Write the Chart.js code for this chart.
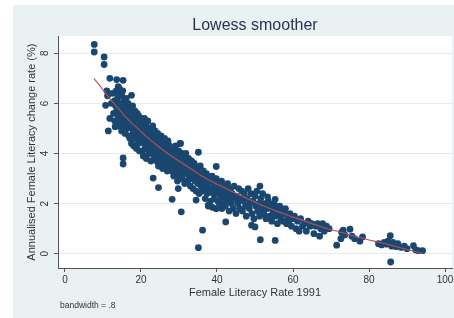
<!DOCTYPE html>
<html lang="en">
<head>
<meta charset="UTF-8">
<title>Lowess smoother</title>
<script src="https://cdn.jsdelivr.net/npm/chart.js"></script>
<style>
    html, body {
        margin: 0;
        padding: 0;
        background: #ffffff;
        overflow: hidden;
        width: 454px;
        height: 318px;
    }
    #chart {
        position: absolute;
        left: 13px;
        top: 5px;
        background: #eaf1f3;
    }
</style>
</head>
<body>
<canvas id="chart" width="470" height="313"></canvas>
<script>
    // tick labels
    const xTicks = [0, 20, 40, 60, 80, 100];
    const yTicks = [0, 2, 4, 6, 8];

    // female literacy rate 1991 (x) vs annualised change rate % (y)
    const districtPoints = [
        // top-left outliers
        [7.7, 8.35], [7.7, 8.05], [10.3, 7.85], [10.3, 7.55], [11.8, 7.0], [13.6, 6.95], [15.3, 6.92],
        [11.0, 6.5], [11.2, 6.3], [10.7, 5.92], [11.4, 4.9], [11.8, 5.4], [13.2, 5.07], [14.0, 6.67],
        [13.2, 6.43], [14.5, 6.47], [14.9, 6.34], [17.5, 6.32], [15.3, 3.82], [15.3, 3.58],
        // 12 - 17
        [12.2, 6.0], [12.5, 6.4], [12.8, 5.6], [13.0, 6.1], [13.1, 5.3], [13.3, 5.9], [13.5, 6.5], [13.6, 5.7],
        [13.8, 6.2], [13.9, 5.1], [14.0, 5.5], [14.2, 6.0], [14.3, 6.6], [14.4, 5.8], [14.5, 5.3], [14.7, 6.3],
        [14.8, 5.6], [14.9, 4.9], [15.0, 6.0], [15.1, 5.4], [15.2, 6.5], [15.3, 5.8], [15.4, 5.1], [15.6, 6.1],
        [15.7, 5.5], [15.8, 4.8], [15.9, 5.9], [16.0, 5.3], [16.1, 6.2], [16.2, 5.7], [16.3, 5.0], [16.4, 5.5],
        [16.6, 6.0], [16.7, 5.2], [16.8, 4.7], [16.9, 5.6],
        // 17 - 20
        [17.0, 5.4], [17.1, 4.6], [17.2, 5.8], [17.4, 5.1], [17.5, 4.4], [17.6, 5.6], [17.7, 5.0], [17.8, 5.9],
        [17.9, 4.8], [18.0, 5.3], [18.1, 4.3], [18.2, 5.5], [18.3, 4.9], [18.4, 5.7], [18.5, 5.1], [18.6, 4.6],
        [18.7, 5.4], [18.8, 4.2], [18.9, 5.0], [19.0, 5.6], [19.1, 4.7], [19.2, 5.2], [19.3, 4.4], [19.4, 5.5],
        [19.5, 4.9], [19.6, 4.1], [19.7, 5.3], [19.8, 4.6], [19.9, 5.0], [20.0, 5.4],
        // 20 - 24
        [20.1, 4.5], [20.2, 4.9], [20.3, 4.1], [20.4, 5.2], [20.5, 4.7], [20.6, 3.9], [20.7, 5.0], [20.8, 4.4],
        [20.9, 5.4], [21.0, 4.8], [21.1, 4.2], [21.2, 4.6], [21.3, 5.1], [21.4, 3.8], [21.5, 4.5], [21.6, 4.9],
        [21.7, 4.3], [21.8, 5.3], [21.9, 4.7], [22.0, 4.0], [22.1, 4.4], [22.2, 5.0], [22.3, 4.6], [22.4, 4.1],
        [22.5, 4.8], [22.6, 3.7], [22.7, 4.3], [22.8, 4.9], [22.9, 4.5], [23.0, 4.0], [23.1, 5.1], [23.2, 4.6],
        [23.3, 4.2], [23.4, 4.7], [23.5, 3.9], [23.6, 4.4], [23.7, 4.9], [23.8, 4.1], [23.9, 4.6], [24.0, 4.3],
        // 24 - 28
        [24.1, 3.7], [24.2, 4.5], [24.3, 4.0], [24.4, 4.8], [24.5, 4.2], [24.6, 3.5], [24.7, 4.4], [24.8, 3.9],
        [24.9, 4.6], [25.0, 4.1], [25.1, 3.6], [25.2, 4.3], [25.3, 4.7], [25.4, 3.8], [25.5, 4.2], [25.6, 4.5],
        [25.7, 3.4], [25.8, 4.0], [25.9, 4.4], [26.0, 3.7], [26.1, 4.2], [26.2, 4.6], [26.3, 3.9], [26.4, 4.1],
        [26.5, 3.5], [26.6, 4.4], [26.7, 3.8], [26.8, 4.2], [26.9, 3.3], [27.0, 4.0], [27.1, 4.5], [27.2, 3.6],
        [27.3, 4.1], [27.4, 3.9], [27.5, 4.3], [27.6, 3.4], [27.7, 3.8], [27.8, 4.2], [27.9, 3.6], [28.0, 4.0],
        // 28 - 32
        [28.1, 3.3], [28.2, 3.8], [28.3, 4.2], [28.4, 3.5], [28.5, 3.9], [28.6, 3.1], [28.7, 3.7], [28.8, 4.1],
        [28.9, 3.4], [29.0, 3.8], [29.1, 4.3], [29.2, 3.2], [29.3, 3.6], [29.4, 4.0], [29.5, 3.5], [29.6, 2.9],
        [29.7, 3.8], [29.8, 3.3], [29.9, 4.1], [30.0, 3.6], [30.1, 3.0], [30.2, 3.9], [30.3, 3.4], [30.4, 4.4],
        [30.5, 3.7], [30.6, 3.2], [30.7, 3.5], [30.8, 4.0], [30.9, 3.0], [31.0, 3.6], [31.2, 3.3], [31.4, 3.8],
        [31.5, 2.8], [31.6, 3.5], [31.8, 4.0], [32.0, 3.2],
        // 32 - 36
        [32.1, 3.6], [32.3, 2.9], [32.4, 3.4], [32.5, 3.8], [32.7, 3.1], [32.8, 3.5], [33.0, 2.7], [33.1, 3.3],
        [33.3, 3.7], [33.4, 3.0], [33.6, 3.4], [33.7, 2.6], [33.9, 3.2], [34.0, 3.6], [34.2, 2.9], [34.3, 3.3],
        [34.5, 2.5], [34.6, 3.0], [34.8, 3.4], [35.0, 2.8], [35.1, 3.2], [35.3, 2.4], [35.5, 3.0], [35.6, 3.5],
        [35.8, 2.7], [36.0, 3.1],
        // 36 - 40
        [36.1, 2.5], [36.3, 2.9], [36.4, 3.3], [36.6, 2.6], [36.8, 3.0], [36.9, 2.2], [37.1, 2.8], [37.2, 3.2],
        [37.4, 2.4], [37.5, 2.7], [37.7, 1.9], [37.8, 3.0], [38.0, 2.5], [38.2, 2.9], [38.3, 2.1], [38.5, 2.6],
        [38.7, 3.1], [38.8, 1.85], [39.0, 2.4], [39.2, 2.8], [39.3, 2.2], [39.5, 2.6], [39.7, 1.8], [39.8, 3.0],
        [40.0, 2.5],
        // 40 - 45
        [40.2, 2.1], [40.3, 2.8], [40.5, 2.4], [40.7, 1.95], [40.8, 2.6], [41.0, 2.2], [41.2, 2.9], [41.3, 1.8],
        [41.5, 2.5], [41.7, 2.0], [41.9, 2.7], [42.0, 2.3], [42.2, 1.9], [42.4, 2.6], [42.6, 2.1], [42.8, 2.8],
        [43.0, 2.4], [43.2, 1.7], [43.4, 2.2], [43.6, 2.6], [43.8, 2.0], [44.0, 2.4], [44.3, 1.8], [44.5, 2.7],
        [44.8, 2.2], [45.0, 1.6],
        // 45 - 52
        [45.2, 2.3], [45.5, 2.0], [45.7, 2.6], [46.0, 1.8], [46.2, 2.2], [46.5, 2.5], [46.7, 1.7], [47.0, 2.1],
        [47.2, 2.4], [47.5, 1.9], [47.7, 1.5], [48.0, 2.2], [48.2, 2.6], [48.5, 1.8], [48.7, 2.0], [49.0, 2.4],
        [49.2, 1.6], [49.5, 2.1], [49.7, 1.4], [50.0, 2.3], [50.2, 1.9], [50.5, 2.5], [50.7, 1.7], [51.0, 2.0],
        [51.2, 1.5], [51.5, 2.2], [51.8, 1.8], [52.0, 2.4],
        // 52 - 60
        [52.3, 1.6], [52.6, 2.0], [52.9, 1.4], [53.2, 1.8], [53.5, 2.1], [53.8, 1.5], [54.1, 1.9], [54.4, 1.3],
        [54.7, 1.7], [55.0, 2.0], [55.3, 1.5], [55.6, 1.8], [55.9, 1.2], [56.2, 1.6], [56.5, 1.9], [56.8, 1.4],
        [57.1, 1.7], [57.4, 1.3], [57.7, 1.6], [58.0, 1.8], [58.3, 1.2], [58.6, 1.5], [58.9, 1.3], [59.2, 1.6],
        [59.6, 1.1], [60.0, 1.4],
        // 60 - 70
        [60.4, 1.5], [60.8, 1.0], [61.2, 1.3], [61.6, 0.9], [62.0, 1.4], [62.5, 1.1], [63.0, 1.2], [63.5, 0.9],
        [64.0, 1.3], [64.5, 1.1], [65.0, 1.2], [65.5, 0.8], [66.0, 1.1], [66.5, 1.2], [67.0, 0.7], [67.3, 1.0],
        [67.8, 1.2], [68.2, 0.9], [68.8, 1.1], [69.5, 1.0],
        // scattered below / above the band
        [23.2, 3.02], [24.6, 2.64], [28.2, 2.17], [30.6, 1.67], [36.2, 0.94], [35.1, 0.24], [35.1, 4.05],
        [39.8, 3.48], [42.3, 1.27], [51.4, 0.56], [55.3, 0.53], [49.1, 1.14], [50.0, 1.07], [51.3, 2.7],
        [53.3, 2.27], [55.3, 2.17], [34.5, 2.14], [37.7, 1.94], [39.9, 1.8], [29.8, 2.6], [30.3, 4.4], [25.9, 4.4],
        // 70 - 80
        [71.5, 0.34], [72.6, 0.6], [72.8, 0.85], [73.2, 0.94], [73.6, 0.75], [75.0, 0.98], [75.5, 0.7],
        [76.2, 0.6], [77.6, 0.5], [78.3, 0.67],
        // 82 - 94
        [82.5, 0.4], [83.3, 0.35], [84.0, 0.45], [84.6, 0.38], [85.0, 0.5], [85.4, 0.4], [85.6, 0.72],
        [85.7, -0.33], [86.0, 0.3], [86.3, 0.45], [86.7, 0.35], [87.2, 0.28], [87.6, 0.4], [88.5, 0.25],
        [89.3, 0.3], [90.0, 0.2], [91.7, 0.32], [92.3, 0.15], [93.0, 0.12], [94.1, 0.12]
    ];

    // lowess curve (bandwidth .8)
    const lowessX = [7.6, 10, 12, 14, 16, 18, 20, 22, 24, 26, 28, 30, 32, 34, 36, 38, 40, 42, 44, 46, 48,
        50, 52, 54, 56, 58, 60, 62, 64, 66, 68, 70, 72, 74, 76, 78, 80, 82, 84, 86, 88, 90, 92, 94.2];
    const lowessY = [7.0, 6.55, 6.15, 5.8, 5.45, 5.15, 4.88, 4.6, 4.35, 4.12, 3.9, 3.7, 3.5, 3.3, 3.1, 2.93,
        2.77, 2.63, 2.48, 2.34, 2.2, 2.06, 1.92, 1.8, 1.68, 1.57, 1.46, 1.36, 1.25, 1.15, 1.05, 0.96, 0.88,
        0.8, 0.71, 0.63, 0.55, 0.48, 0.41, 0.33, 0.25, 0.17, 0.09, 0.0];

    Chart.defaults.font.family = '"Liberation Sans", Arial, sans-serif';

    // white plot region like Stata's s2color scheme, plus the bandwidth note
    const plotRegion = {
        id: 'plotRegion',
        beforeDraw(chart) {
            const a = chart.chartArea;
            const c = chart.ctx;
            c.save();
            c.fillStyle = '#ffffff';
            c.fillRect(a.left, a.top, a.right - a.left, a.bottom - a.top);
            c.restore();
        },
        afterDraw(chart) {
            const c = chart.ctx;
            c.save();
            c.font = '8.5px "Liberation Sans", Arial, sans-serif';
            c.fillStyle = '#333333';
            c.textBaseline = 'middle';
            c.fillText('bandwidth = .8', 47, 301);
            c.restore();
        }
    };

    const ctx = document.getElementById('chart').getContext('2d');
    const chart = new Chart(ctx, {
        type: 'scatter',
        data: {
            datasets: [{
                label: 'lowess',
                data: lowessX.map((x, i) => ({x: x, y: lowessY[i]})),
                showLine: true,
                borderColor: '#bb4f5a',
                borderWidth: 1.1,
                pointRadius: 0,
                tension: 0.3,
                order: 0
            }, {
                label: 'districts',
                data: districtPoints.map(p => ({x: p[0], y: p[1]})),
                backgroundColor: '#1a476f',
                borderWidth: 0,
                pointRadius: 3.4,
                order: 1
            }]
        },
        options: {
            responsive: false,
            animation: false,
            layout: {padding: {left: 0, right: 31, top: 0, bottom: 0}},
            plugins: {
                legend: {display: false},
                tooltip: {enabled: false},
                title: {
                    display: true,
                    text: 'Lowess smoother',
                    fullSize: false,
                    color: '#243650',
                    font: {size: 16, weight: 'normal'},
                    padding: {top: 11, bottom: 1}
                }
            },
            scales: {
                x: {
                    type: 'linear',
                    min: -1.84,
                    max: 101.84,
                    afterBuildTicks: s => { s.ticks = xTicks.map(v => ({value: v})); },
                    afterFit: s => { s.height = 50; },
                    grid: {drawOnChartArea: false, tickLength: 4, tickColor: '#555555'},
                    border: {color: '#555555'},
                    ticks: {padding: 2, maxRotation: 0, color: '#333333', font: {size: 10}},
                    title: {
                        display: true,
                        text: 'Female Literacy Rate 1991',
                        color: '#333333',
                        font: {size: 11},
                        padding: {top: 0, bottom: 18}
                    }
                },
                y: {
                    min: -0.57,
                    max: 8.68,
                    afterBuildTicks: s => { s.ticks = yTicks.map(v => ({value: v})); },
                    afterFit: s => { s.width = 45; },
                    grid: {color: '#e3ebee', tickLength: 4, tickColor: '#555555'},
                    border: {color: '#555555'},
                    ticks: {padding: 6, minRotation: 90, maxRotation: 90, crossAlign: 'center', color: '#333333', font: {size: 10}},
                    title: {
                        display: true,
                        text: 'Annualised Female Literacy change rate (%)',
                        color: '#333333',
                        font: {size: 11},
                        padding: {top: 12, bottom: 0}
                    }
                }
            }
        },
        plugins: [plotRegion]
    });
</script>
</body>
</html>
